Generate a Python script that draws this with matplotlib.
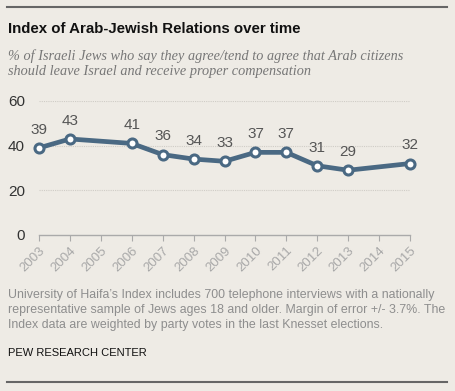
import matplotlib as mpl
mpl.use("Agg")
import matplotlib.pyplot as plt

years = [2003, 2004, 2006, 2007, 2008, 2009, 2010, 2011, 2012, 2013, 2015]
values = [39, 43, 41, 36, 34, 33, 37, 37, 31, 29, 32]
tick_years = list(range(2003, 2016))
yticks = [0, 20, 40, 60]

bg = "#EEEBE5"
line_clr = "#4A6983"

fig = plt.figure(figsize=(4.55, 3.91), dpi=100, facecolor=bg)
ax = fig.add_axes([39/455, 1 - 235/391, (410 - 39)/455, (235 - 101)/391])
ax.set_facecolor(bg)

ax.plot(years, values, color=line_clr, lw=3.4, marker="o", ms=6.5,
        mfc="white", mec=line_clr, mew=2.2, clip_on=False, zorder=3)
for x, v in zip(years, values):
    ax.annotate(str(v), (x, v), xytext=(0, 8), textcoords="offset points",
                ha="center", va="bottom", fontsize=11, color="#555555",
                family="Liberation Sans")

ax.set_xlim(2003, 2015)
ax.set_ylim(0, 60)
ax.set_yticks(yticks)
ax.set_yticklabels([str(t) for t in yticks], fontsize=11, color="#333333",
                   family="Liberation Sans")
ax.set_xticks(tick_years)
ax.set_xticklabels([str(t) for t in tick_years], rotation=45, ha="right",
                   rotation_mode="anchor", fontsize=9.5, color="#A8A8A8",
                   family="Liberation Sans")
ax.tick_params(axis="y", length=0, pad=10)
ax.tick_params(axis="x", length=4, color="#AAAAAA", pad=3)
for s in ["top", "right", "left"]:
    ax.spines[s].set_visible(False)
ax.spines["bottom"].set_color("#AAAAAA")
ax.spines["bottom"].set_linewidth(1)
for t in yticks[1:]:
    ax.axhline(t, color="#CFCCC6", lw=0.8, ls=(0, (1, 1)), zorder=1)

fig.add_artist(plt.Line2D([7/455, 447/455], [1 - 7/391, 1 - 7/391],
                          color="#666666", lw=1.5))
fig.add_artist(plt.Line2D([7/455, 447/455], [1 - 382/391, 1 - 382/391],
                          color="#666666", lw=1.5))

fig.text(8/455, 1 - 29/391, "Index of Arab-Jewish Relations over time",
         fontsize=10.8, fontweight="bold", color="#111111",
         family="Liberation Sans", va="center")
fig.text(8/455, 1 - 64/391,
         "% of Israeli Jews who say they agree/tend to agree that Arab citizens\n"
         "should leave Israel and receive proper compensation",
         fontsize=10.3, style="italic", color="#777777", family="Liberation Serif",
         va="center", linespacing=1.2)
fig.text(8/455, 1 - 310/391,
         "University of Haifa\u2019s Index includes 700 telephone interviews with a nationally\n"
         "representative sample of Jews ages 18 and older. Margin of error +/- 3.7%. The\n"
         "Index data are weighted by party votes in the last Knesset elections.",
         fontsize=8.9, color="#8E8E8E", family="Liberation Sans", va="center",
         linespacing=1.3)
fig.text(8/455, 1 - 353/391, "PEW RESEARCH CENTER", fontsize=8.0,
         color="#111111", family="Liberation Sans", va="center")

fig.savefig("out.png", dpi=100, facecolor=bg)
